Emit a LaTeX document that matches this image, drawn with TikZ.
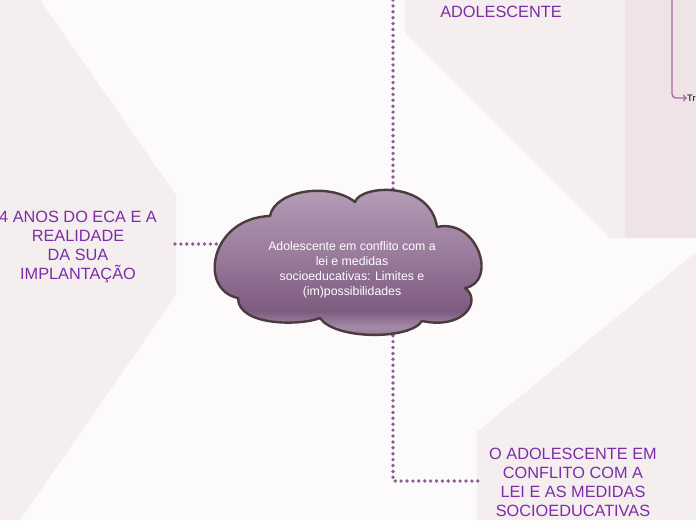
\documentclass[tikz,border=0pt]{standalone}
\usepackage{fontspec}
\setmainfont{Liberation Sans}
\usetikzlibrary{positioning,arrows.meta}

\definecolor{paper}{HTML}{FCFAFB}
\definecolor{panel}{HTML}{F5EEEF}
\definecolor{paneldark}{HTML}{EFE3E5}
\definecolor{topicpurple}{HTML}{7B2DA8}
\definecolor{linkpurple}{HTML}{8C5A8C}
\definecolor{twigpurple}{HTML}{A06AA0}
\definecolor{cloudtop}{HTML}{B8A1BB}
\definecolor{cloudmid}{HTML}{9A7C9C}
\definecolor{cloudbot}{HTML}{7D5B7F}
\definecolor{cloudband}{HTML}{A38CA6}
\definecolor{cloudfoot}{HTML}{8C6E8F}
\definecolor{cloudedge}{HTML}{4B3B3D}

\pgfdeclareverticalshading{cloudshade}{100bp}{color(0bp)=(cloudfoot); color(25bp)=(cloudfoot);
  color(29bp)=(cloudband); color(34bp)=(cloudbot); color(52bp)=(cloudmid); color(75bp)=(cloudtop); color(100bp)=(cloudtop)}

\tikzset{
  topic/.style={text=topicpurple, font=\fontsize{16.3}{19}\selectfont, align=center, inner sep=0pt},
  link/.style={draw=linkpurple, line width=3.7pt, line cap=round, dash pattern=on 0pt off 5.9pt},
  puffy/.style={draw=cloudedge, line width=2.4pt, line join=round, shading=cloudshade},
}

\begin{document}
\begin{tikzpicture}[x=1pt, y=-1pt]
    % Page and background panels
    \fill[paper] (0,0) rectangle (696,520);
    \useasboundingbox (0,0) rectangle (696,520);
    \fill[panel] (0,0) -- (40,0) -- (176,195) -- (176,295) -- (20,520) -- (0,520) -- cycle;
    \fill[panel] (405,0) -- (696,0) -- (696,238) -- (610,238) -- (405,33) -- cycle;
    \fill[paneldark] (625,0) rectangle (696,238);
    \fill[panel] (477,520) -- (477,432) -- (696,252) -- (696,520) -- cycle;

    % Topics around the central idea
    \node[topic] (direitos) at (501,12) {ADOLESCENTE};
    \node[topic] (ecaanos) at (78,247) {4 ANOS DO ECA E A\\REALIDADE\\DA SUA\\IMPLANTAÇÃO};
    \node[topic] (medidas) at (573,482) {O ADOLESCENTE EM\\CONFLITO COM A\\LEI E AS MEDIDAS\\SOCIOEDUCATIVAS};

    % Subtopic of the top-right panel
    \coordinate (trunk) at (672,0);
    \node[anchor=west, inner sep=0pt, font=\fontsize{9.3}{11}\selectfont] (trilha) at (687,98) {Tr};
    \draw[twigpurple, line width=1.3pt, rounded corners=4pt, -{To[length=4pt, width=7pt]}] (trunk) |- (trilha.west);

    % Connector ends
    \coordinate (topport) at (393,0);
    \coordinate (coretop) at (393,200);
    \coordinate (leftport) at (175,244);
    \coordinate (coreleft) at (222,244);
    \coordinate (coredown) at (393,318);
    \coordinate (lawport) at (481,481);

    \draw[link] (topport) -- (coretop);
    \draw[link] (leftport) -- (coreleft);
    \draw[link] (coredown) |- (lawport);

    % Central idea: cloud outline, notch to notch
    \path[puffy] (238,298)
        .. controls (198,290) and (210,218) .. (270,216)
        .. controls (275,190) and (330,182) .. (355,202)
        .. controls (360,185) and (430,180) .. (437,227)
        .. controls (478,218) and (498,282) .. (465,288)
        .. controls (482,300) and (465,330) .. (422,321)
        .. controls (410,340) and (335,340) .. (320,318)
        .. controls (300,326) and (238,326) .. cycle;
    \node[text=white, align=center, font=\fontsize{12.3}{14.8}\selectfont, inner sep=0pt] (core) at (352,270)
        {Adolescente em conflito com a\\lei e medidas\\socioeducativas: Limites e\\(im)possibilidades};
\end{tikzpicture}
\end{document}
